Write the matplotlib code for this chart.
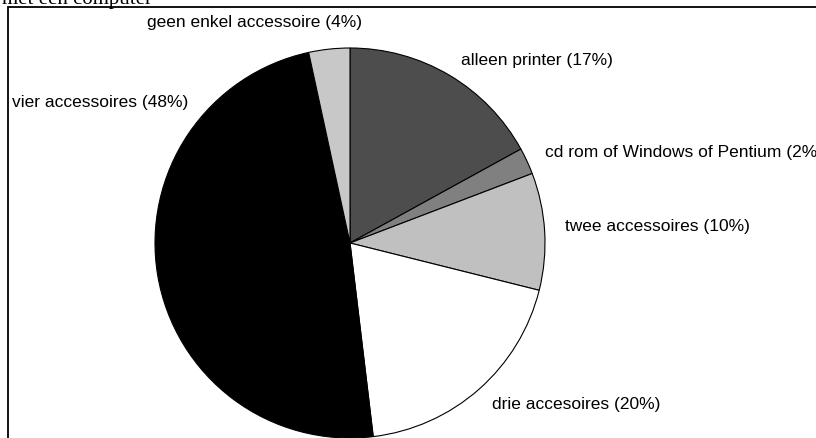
import matplotlib
matplotlib.use("Agg")
import matplotlib.pyplot as plt

# share of buyers per accessory set
labels = ["alleen printer (17%)", "cd rom of Windows of Pentium (2%)",
          "twee accessoires (10%)", "drie accesoires (20%)",
          "vier accessoires (48%)", "geen enkel accessoire (4%)"]
values = [17.0, 2.2, 9.7, 19.2, 48.5, 3.4]
colors = ["#4d4d4d", "#808080", "#c0c0c0", "#ffffff", "#000000", "#c8c8c8"]
title = "met een computer"

# label anchor points in image pixels (left x, centre y from top)
label_pos = [(461, 61), (545, 152), (565, 226), (492, 404), (12, 103), (147, 23)]

W, H = 816, 438
fig = plt.figure(figsize=(W / 100, H / 100), dpi=100)
ax = fig.add_axes([0, 0, 1, 1])

ax.pie(values, colors=colors, startangle=90, counterclock=False,
       center=(350, H - 243), radius=195,
       wedgeprops=dict(edgecolor="black", linewidth=0.8))

lab_font = ["Liberation Sans", "DejaVu Sans"]
for lab, (x, y) in zip(labels, label_pos):
    ax.text(x, H - y, lab, ha="left", va="center", fontsize=12.5,
            family=lab_font, color="black")

# frame of the original picture, cut on the right and bottom
ax.plot([8, 8, W], [0, H - 7, H - 7], color="black", lw=1.3,
        solid_joinstyle="miter", clip_on=False)
ax.text(2, H - 4, title, ha="left", va="baseline", fontsize=15,
        family=["Liberation Serif", "DejaVu Serif"])

ax.set_xlim(0, W)
ax.set_ylim(0, H)
ax.set_aspect("equal")
ax.axis("off")

fig.savefig("out.png", dpi=100)
